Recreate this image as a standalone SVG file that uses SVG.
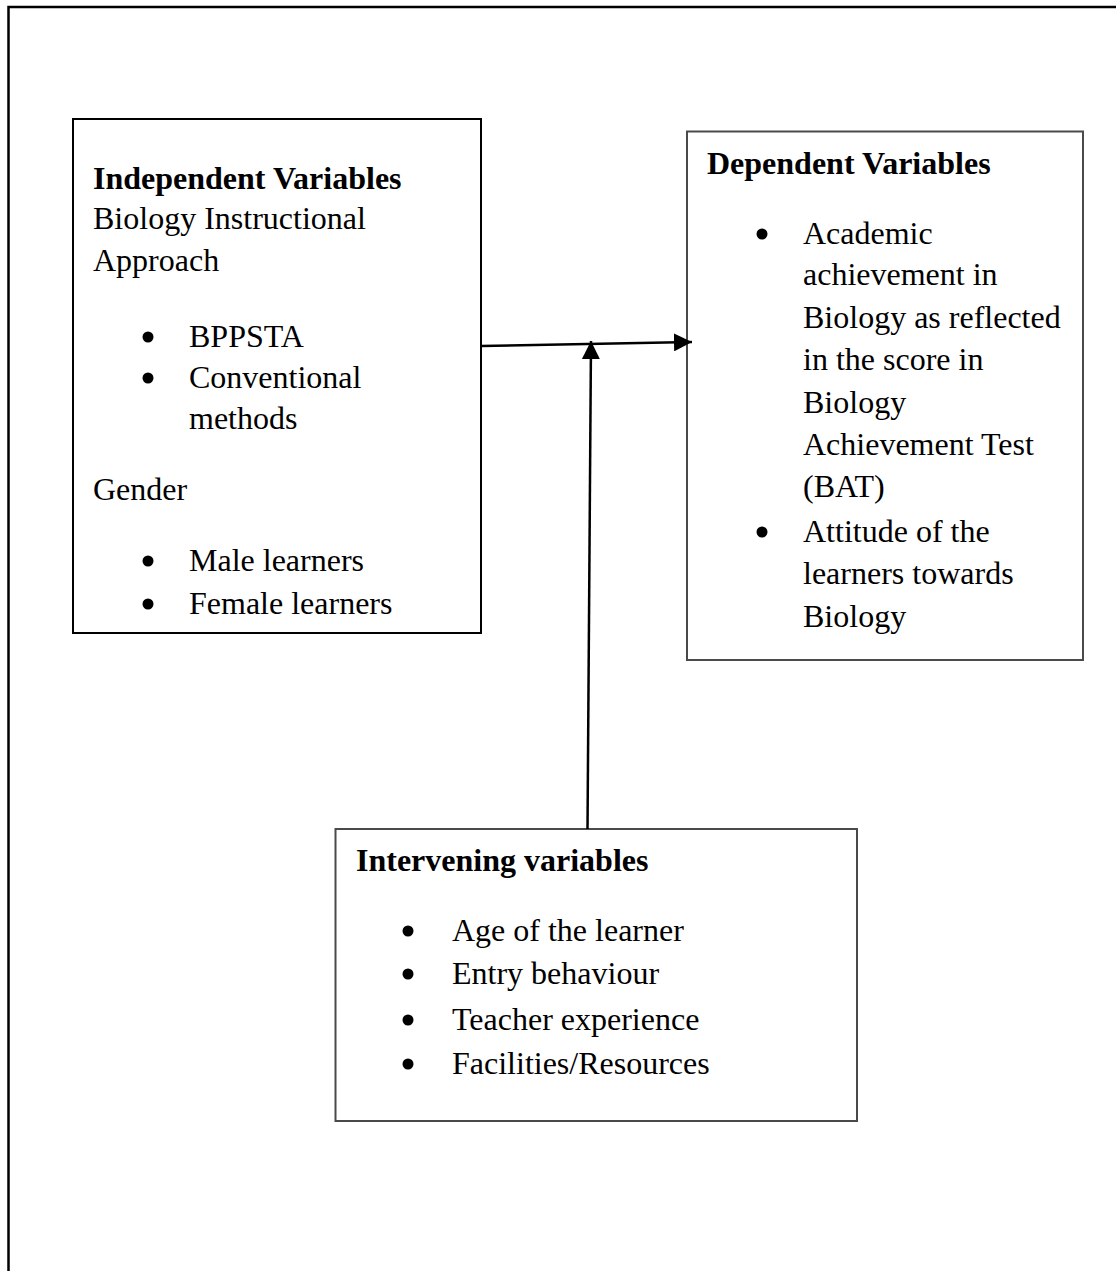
<svg xmlns="http://www.w3.org/2000/svg" width="1116" height="1271" viewBox="0 0 1116 1271">
  <defs>
    <style>
      .box { fill: #ffffff; stroke-width: 2; }
      .b1 { stroke: #000000; }
      .b2 { stroke: #4a4a4a; }
      text { font-family: "Liberation Serif", "Times New Roman", serif; font-size: 32px; fill: #000000; }
      .h { font-weight: bold; }
      .dot { fill: #000000; }
      .conn { stroke: #000000; stroke-width: 2.5; fill: none; }
    </style>
    <marker id="arrow" markerUnits="userSpaceOnUse" markerWidth="18" markerHeight="18" viewBox="0 0 16 16" refX="16" refY="8" orient="auto">
      <path d="M0,0 L16,8 L0,16 z" fill="#000000"/>
    </marker>
  </defs>
  <rect width="1116" height="1271" fill="#ffffff"/>
  <path id="frame" d="M8.5,1271 V7 H1116" fill="none" stroke="#000000" stroke-width="2.5"/>

  <g id="independent">
    <rect class="box b1" x="73" y="119" width="408" height="514"/>
    <text class="h" x="93" y="189">Independent Variables</text>
    <text x="93" y="229">Biology Instructional</text>
    <text x="93" y="271">Approach</text>
    <circle class="dot" cx="148" cy="337" r="5.5"/>
    <text x="189" y="347">BPPSTA</text>
    <circle class="dot" cx="148" cy="378" r="5.5"/>
    <text x="189" y="388">Conventional</text>
    <text x="189" y="429">methods</text>
    <text x="93" y="500">Gender</text>
    <circle class="dot" cx="148" cy="561" r="5.5"/>
    <text x="189" y="571">Male learners</text>
    <circle class="dot" cx="148" cy="604" r="5.5"/>
    <text x="189" y="614">Female learners</text>
  </g>

  <g id="dependent">
    <rect class="box b2" x="687" y="131.5" width="396" height="528.5"/>
    <text class="h" x="707" y="174">Dependent Variables</text>
    <circle class="dot" cx="762" cy="234" r="5.5"/>
    <text x="803" y="244">Academic</text>
    <text x="803" y="285">achievement in</text>
    <text x="803" y="328">Biology as reflected</text>
    <text x="803" y="370">in the score in</text>
    <text x="803" y="413">Biology</text>
    <text x="803" y="455">Achievement Test</text>
    <text x="803" y="497">(BAT)</text>
    <circle class="dot" cx="762" cy="532" r="5.5"/>
    <text x="803" y="542">Attitude of the</text>
    <text x="803" y="584">learners towards</text>
    <text x="803" y="627">Biology</text>
  </g>

  <g id="intervening">
    <rect class="box b2" x="335.5" y="829" width="521.5" height="292"/>
    <text class="h" x="356" y="871">Intervening variables</text>
    <circle class="dot" cx="408" cy="931" r="5.5"/>
    <text x="452" y="941">Age of the learner</text>
    <circle class="dot" cx="408" cy="974" r="5.5"/>
    <text x="452" y="984">Entry behaviour</text>
    <circle class="dot" cx="408" cy="1020" r="5.5"/>
    <text x="452" y="1030">Teacher experience</text>
    <circle class="dot" cx="408" cy="1064" r="5.5"/>
    <text x="452" y="1074">Facilities/Resources</text>
  </g>

  <g id="connectors">
    <line class="conn" x1="481" y1="346" x2="692" y2="342" marker-end="url(#arrow)"/>
    <line class="conn" x1="587.5" y1="829" x2="591" y2="341" marker-end="url(#arrow)"/>
  </g>
</svg>
